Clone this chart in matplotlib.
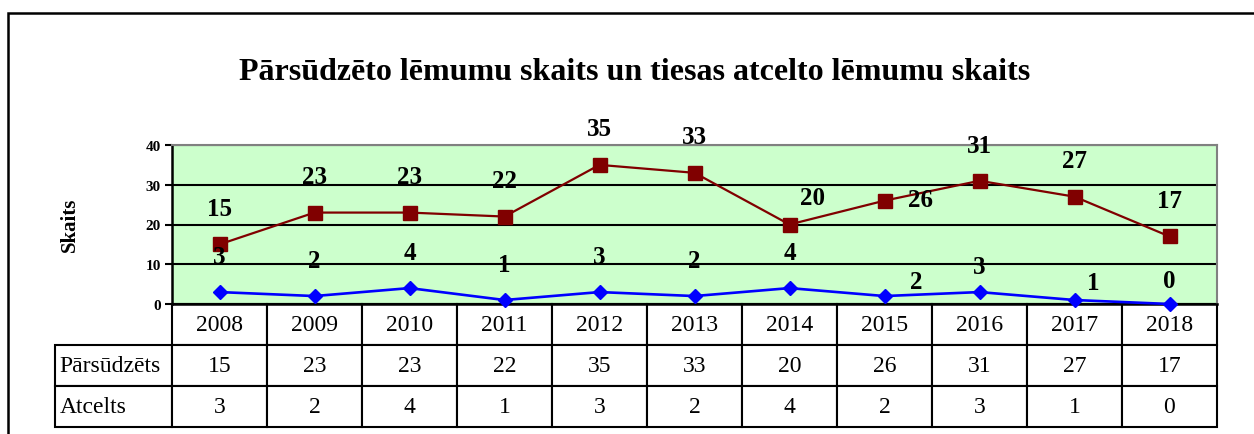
import matplotlib
matplotlib.use("Agg")
import matplotlib.pyplot as plt
from matplotlib.patches import Rectangle

plt.rcParams['font.family'] = ['Liberation Serif', 'DejaVu Serif']

years = ['2008', '2009', '2010', '2011', '2012', '2013', '2014', '2015', '2016', '2017', '2018']
parsudzets = [15, 23, 23, 22, 35, 33, 20, 26, 31, 27, 17]
atcelts = [3, 2, 4, 1, 3, 2, 4, 2, 3, 1, 0]
row_labels = ['Pārsūdzēts', 'Atcelts']
title = 'Pārsūdzēto lēmumu skaits un tiesas atcelto lēmumu skaits'
ylabel = 'Skaits'

W, H = 1254, 435
fig = plt.figure(figsize=(W / 100, H / 100), dpi=100)

# outer frame (clipped at right/bottom)
fig.add_artist(Rectangle((8 / W, -0.5), 2.0, (H - 14) / H + 0.5, transform=fig.transFigure,
                         fill=False, edgecolor='black', linewidth=1.8))

L, R, T, B = 172, 1217, 146, 305
ax = fig.add_axes([L / W, (H - B) / H, (R - L) / W, (B - T) / H])
ax.set_facecolor('#CCFFCC')
x = list(range(len(years)))
ax.set_xlim(-0.5, len(years) - 0.5)
ax.set_ylim(0, 40)
ax.set_yticks([0, 10, 20, 30, 40])
ax.set_xticks([])
ax.yaxis.grid(True, color='black', linewidth=1.5)
ax.set_axisbelow(True)
for s in ['top', 'right']:
    ax.spines[s].set_color('#808080')
    ax.spines[s].set_linewidth(1.5)
for s in ['left', 'bottom']:
    ax.spines[s].set_color('black')
    ax.spines[s].set_linewidth(1.8)
ax.tick_params(axis='y', direction='out', length=5, width=1.5, pad=3, labelsize=11)
for lab in ax.get_yticklabels():
    lab.set_fontweight('bold')

ax.plot(x, parsudzets, color='#800000', linewidth=1.6, marker='s', markersize=10.5,
        markeredgecolor='#800000', markerfacecolor='#800000', clip_on=False, zorder=3)
ax.plot(x, atcelts, color='#0000FF', linewidth=1.9, marker='D', markersize=7.6,
        markeredgecolor='#0000FF', markerfacecolor='#0000FF', clip_on=False, zorder=3)

# data label offsets in pixels (style only)
red_off = {6: (23, 27), 7: (36, 1), 8: (0, 35)}
blue_off = {7: (32, 15), 8: (0, 26), 9: (19, 18), 10: (0, 23)}
for i, v in enumerate(parsudzets):
    dx, dy = red_off.get(i, (0, 36))
    ax.annotate(str(v), (x[i], v), xytext=(dx, dy), textcoords='offset pixels',
                ha='center', va='center', fontsize=18, fontweight='bold',
                annotation_clip=False, zorder=4)
for i, v in enumerate(atcelts):
    dx, dy = blue_off.get(i, (0, 36))
    ax.annotate(str(v), (x[i], v), xytext=(dx, dy), textcoords='offset pixels',
                ha='center', va='center', fontsize=18, fontweight='bold',
                annotation_clip=False, zorder=4)

# data table
tb_left, tb_bottom = 55, 428
tbl = ax.table(cellText=[[str(v) for v in parsudzets], [str(v) for v in atcelts]],
               rowLabels=row_labels, colLabels=years,
               colWidths=[1 / len(years)] * len(years),
               cellLoc='center', rowLoc='left',
               bbox=[0, -(tb_bottom - B) / (B - T), 1, (tb_bottom - B) / (B - T)])
tbl._autoColumns = []
tbl.auto_set_font_size(False)
tbl.set_fontsize(17)
for (r, c), cell in tbl.get_celld().items():
    cell.set_linewidth(1.5)
    cell.set_edgecolor('black')
    cell.set_facecolor('white')
    if c == -1:
        cell.set_width((L - tb_left) / (R - L))
        cell.PAD = 0.04

fig.text(635 / W, 1 - 72 / H, title, ha='center', va='center', fontsize=23, fontweight='bold')
fig.text(70 / W, 1 - 225 / H, ylabel, ha='center', va='center', rotation=90,
         fontsize=15, fontweight='bold')

fig.savefig('out.png', dpi=100, facecolor='white')
